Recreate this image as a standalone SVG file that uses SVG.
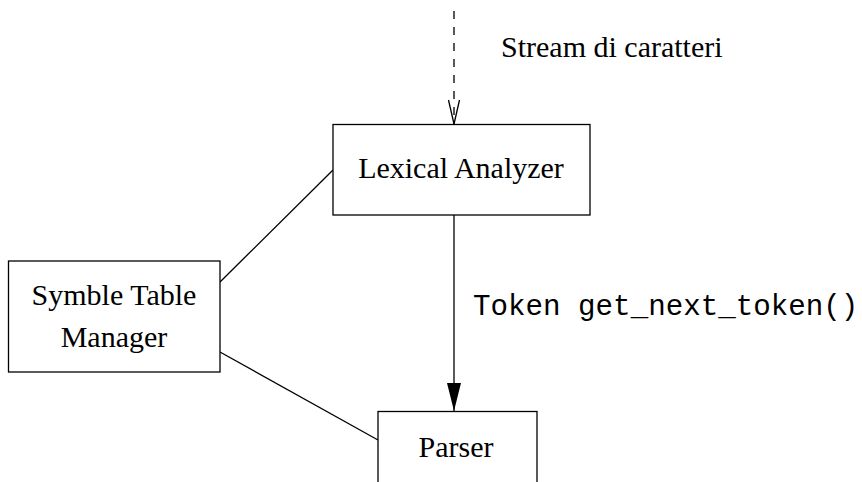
<svg xmlns="http://www.w3.org/2000/svg" width="862" height="482" viewBox="0 0 862 482">
<style>
.box{fill:#fff;stroke:#000;stroke-width:1.3}
.t{font-family:"Liberation Serif",serif;font-size:30px;fill:#000}
.m{font-family:"Liberation Mono",monospace;font-size:29.2px;fill:#000}
.c{stroke:#000;stroke-width:1.3;fill:none}
</style>
<defs>
<marker id="open" markerWidth="26" markerHeight="14" refX="25" refY="7" orient="auto" markerUnits="userSpaceOnUse" viewBox="0 0 26 14">
<path d="M1,1.5 L25,7 L1,12.5" fill="none" stroke="#000" stroke-width="1.3"/>
</marker>
<marker id="fill" markerWidth="28" markerHeight="14" refX="28" refY="7" orient="auto" markerUnits="userSpaceOnUse" viewBox="0 0 28 14">
<path d="M0,0 L28,7 L0,14 Z" fill="#000"/>
</marker>
</defs>
<g id="connectors">
<line class="c" x1="454" y1="11" x2="454" y2="124" stroke-dasharray="8,8" marker-end="url(#open)"/>
<line class="c" x1="454" y1="215" x2="454" y2="411" marker-end="url(#fill)"/>
<line class="c" x1="220" y1="282" x2="333" y2="170"/>
<line class="c" x1="220" y1="352" x2="378" y2="440"/>
<text class="t" x="501" y="57">Stream di caratteri</text>
<text class="m" x="473" y="315">Token get_next_token()</text>
</g>
<g id="lexical">
<rect class="box" x="333" y="124.5" width="257" height="90.5"/>
<text class="t" x="461" y="178" text-anchor="middle">Lexical Analyzer</text>
</g>
<g id="symtable">
<rect class="box" x="8.5" y="261" width="211.5" height="111"/>
<text class="t" x="114" y="305" text-anchor="middle">Symble Table</text>
<text class="t" x="114" y="347" text-anchor="middle">Manager</text>
</g>
<g id="parser">
<rect class="box" x="378" y="411.5" width="159" height="90"/>
<text class="t" x="456" y="457" text-anchor="middle">Parser</text>
</g>
</svg>
